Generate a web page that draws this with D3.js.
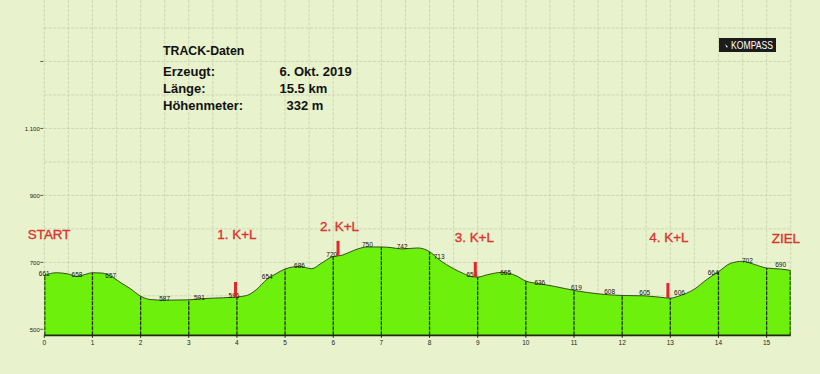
<!DOCTYPE html>
<html>
<head>
<meta charset="utf-8">
<script src="https://cdn.jsdelivr.net/npm/d3@7"></script>
<style>
  body { margin: 0; background: #e9f3cd; }
  svg { display: block; font-family: "Liberation Sans", Arial, sans-serif; }
</style>
</head>
<body>
<svg id="profile"></svg>
<script>
// Track profile (distance in km, elevation in m)
const distKm = [0, 0.25, 0.5, 0.68, 0.85, 1.0, 1.2, 1.38, 1.6, 1.8, 2.0, 2.2, 2.5, 3.0, 3.22, 3.5, 3.94,
  4.2, 4.4, 4.63, 4.8, 5.0, 5.3, 5.55, 5.75, 5.97, 6.2, 6.45, 6.71, 7.0, 7.2, 7.43, 7.75, 8.0, 8.2,
  8.5, 8.7, 8.88, 9.0, 9.2, 9.5, 9.8, 10.0, 10.29, 10.6, 11.05, 11.5, 11.74, 12.0, 12.47, 12.9,
  13.0, 13.19, 13.5, 13.75, 13.89, 14.0, 14.25, 14.5, 14.7, 15.0, 15.29, 15.5];
const elevM = [661, 669, 665, 658, 664, 669, 668, 659, 638, 620, 599, 589, 587, 588, 591, 593, 596,
  601, 618, 650, 665, 680, 688, 681, 697, 716, 722, 737, 746, 746, 744, 740, 743, 732, 708,
  681, 667, 657, 656, 663, 670, 660, 644, 636, 628, 615, 606, 603, 601, 600, 594,
  593, 600, 620, 648, 662, 672, 697, 703, 696, 683, 680, 676];

// Waypoint labels along the profile
const wpKm = [0, 0.68, 1.38, 2.5, 3.22, 3.94, 4.63, 5.3, 5.97, 6.71, 7.43, 8.2, 8.88, 9.58, 10.29,
  11.05, 11.74, 12.47, 13.19, 13.89, 14.6, 15.29];
const wpElev = [661, 658, 657, 587, 591, 596, 654, 686, 720, 750, 742, 713, 659, 665, 636,
  619, 608, 605, 606, 664, 702, 690];

// Stations (K+L) and start / finish labels
const stationKm = [3.97, 6.1, 8.95, 12.95];
const markLabels = ["START", "1. K+L", "2. K+L", "3. K+L", "4. K+L", "ZIEL"];
const markKm = [0.1, 4.0, 6.13, 8.93, 12.97, 15.4];
const markElev = [783, 783, 808, 776, 776, 771];

// Axis ticks
const yLabelTicks = [500, 700, 900, 1100];
const yGridTicks = d3.range(500, 1401, 100);
const xLabelTicks = d3.range(0, 16, 1);
const xGridTicks = d3.range(0, 15.51, 0.5);

// Header
const headerTitle = "TRACK-Daten";
const headerKeys = ["Erzeugt:", "Länge:", "Höhenmeter:"];
const headerValues = ["6. Okt. 2019", "15.5 km", "332 m"];

const W = 820, H = 374;
const BASE = 482;

const svg = d3.select("#profile").attr("width", W).attr("height", H);

const x = d3.scaleLinear().domain([0, 15.5]).range([44.3, 790.7]);
const y = d3.scaleLinear().domain([500, 1400]).range([329.3, 28]);

// Background
svg.append("rect").attr("width", W).attr("height", H).attr("fill", "#e8f2cc");

// Grid
const grid = svg.append("g")
    .attr("stroke", "#c2cbaa")
    .attr("stroke-width", 0.7)
    .attr("stroke-dasharray", "3,1.5");

grid.selectAll(".vg")
    .data(xGridTicks)
    .enter().append("line")
    .attr("x1", d => x(d)).attr("x2", d => x(d))
    .attr("y1", 0).attr("y2", y(BASE));

grid.selectAll(".hg")
    .data(yGridTicks)
    .enter().append("line")
    .attr("x1", x(0)).attr("x2", x(15.5))
    .attr("y1", d => y(d)).attr("y2", d => y(d));

// Profile area
const profile = d3.zip(distKm, elevM);
const area = d3.area()
    .x(d => x(d[0]))
    .y0(y(BASE))
    .y1(d => y(d[1]))
    .curve(d3.curveMonotoneX);
const line = d3.line()
    .x(d => x(d[0]))
    .y(d => y(d[1]))
    .curve(d3.curveMonotoneX);

svg.append("defs").append("clipPath")
    .attr("id", "areaClip")
    .append("path")
    .attr("d", area(profile));

svg.append("path")
    .attr("d", area(profile))
    .attr("fill", "#6cf00c");

// Km divider lines inside the area
svg.append("g")
    .attr("clip-path", "url(#areaClip)")
    .selectAll("line")
    .data(xLabelTicks.concat([15.5]))
    .enter().append("line")
    .attr("x1", d => x(d)).attr("x2", d => x(d))
    .attr("y1", y(BASE)).attr("y2", 0)
    .attr("stroke", "#24300f")
    .attr("stroke-width", d => (d === 0 || d === 15.5) ? 2.2 : 1.3)
    .attr("stroke-dasharray", "4,1");

// Outline on top
svg.append("path")
    .attr("d", line(profile))
    .attr("fill", "none")
    .attr("stroke", "#2d3a1a")
    .attr("stroke-width", 0.9);

// Base line
svg.append("line")
    .attr("x1", x(0)).attr("x2", x(15.5))
    .attr("y1", y(BASE)).attr("y2", y(BASE))
    .attr("stroke", "#1e2a10")
    .attr("stroke-width", 1.6);

// X axis ticks and labels
const xAxis = svg.append("g");
xAxis.selectAll("line")
    .data(xLabelTicks)
    .enter().append("line")
    .attr("x1", d => x(d)).attr("x2", d => x(d))
    .attr("y1", y(BASE)).attr("y2", y(BASE) + 2.5)
    .attr("stroke", "#1e2a10").attr("stroke-width", 1);
xAxis.selectAll("text")
    .data(xLabelTicks)
    .enter().append("text")
    .attr("x", d => x(d))
    .attr("y", 345)
    .attr("text-anchor", "middle")
    .style("font-size", "6.5px")
    .attr("fill", "#222")
    .text(d => d);

// Y axis ticks and labels
const yAxis = svg.append("g");
yAxis.selectAll("line")
    .data(yLabelTicks.concat([1300]))
    .enter().append("line")
    .attr("x1", x(0) - 4).attr("x2", x(0) - 1)
    .attr("y1", d => y(d)).attr("y2", d => y(d))
    .attr("stroke", "#333").attr("stroke-width", 0.8);
yAxis.selectAll("text")
    .data(yLabelTicks)
    .enter().append("text")
    .attr("x", x(0) - 4.5)
    .attr("y", d => y(d) + 2.2)
    .attr("text-anchor", "end")
    .style("font-size", "6px")
    .attr("fill", "#222")
    .text(d => d3.format(",")(d).replace(",", "."));

// Waypoint elevation labels
svg.append("g")
    .selectAll("text")
    .data(d3.zip(wpKm, wpElev))
    .enter().append("text")
    .attr("x", d => x(d[0]))
    .attr("y", d => y(d[1]) + 1)
    .attr("text-anchor", "middle")
    .style("font-size", "6.5px")
    .attr("fill", "#111")
    .text(d => d[1]);

// Red station bars sitting on the profile
const elevAt = k => {
    const i = d3.bisectLeft(distKm, k);
    if (i <= 0) return elevM[0];
    const t = (k - distKm[i - 1]) / (distKm[i] - distKm[i - 1]);
    return elevM[i - 1] + t * (elevM[i] - elevM[i - 1]);
};
svg.append("g")
    .selectAll("rect")
    .data(stationKm)
    .enter().append("rect")
    .attr("x", d => x(d) - 1.5)
    .attr("y", d => y(elevAt(d)) - 15)
    .attr("width", 3)
    .attr("height", 15)
    .attr("fill", "#e0272b");

// Red START / K+L / ZIEL labels
svg.append("g")
    .selectAll("text")
    .data(d3.zip(markLabels, markKm, markElev))
    .enter().append("text")
    .attr("x", d => x(d[1]))
    .attr("y", d => y(d[2]))
    .attr("dy", "0.36em")
    .attr("text-anchor", "middle")
    .style("font-size", "13.4px")
    .style("stroke", "#d9332f")
    .style("stroke-width", 0.35)
    .attr("fill", "#d9332f")
    .text(d => d[0]);

// Header block
svg.append("text")
    .attr("x", 163).attr("y", 54.5)
    .style("font-size", "12.3px")
    .style("font-weight", "bold")
    .attr("fill", "#111")
    .text(headerTitle);

const rowY = [75.8, 93, 109.5];
const valueX = [279.5, 279.5, 286.5];
svg.append("g")
    .selectAll("text")
    .data(headerKeys)
    .enter().append("text")
    .attr("x", 163)
    .attr("y", (d, i) => rowY[i])
    .style("font-size", "13px")
    .style("font-weight", "bold")
    .attr("fill", "#111")
    .text(d => d);
svg.append("g")
    .selectAll("text")
    .data(headerValues)
    .enter().append("text")
    .attr("x", (d, i) => valueX[i])
    .attr("y", (d, i) => rowY[i])
    .style("font-size", "13px")
    .style("font-weight", "bold")
    .attr("fill", "#111")
    .text(d => d);

// KOMPASS logo
const logo = svg.append("g").attr("transform", "translate(719,38)");
logo.append("rect")
    .attr("width", 57).attr("height", 14)
    .attr("fill", "#1c1c1c");
logo.append("path")
    .attr("d", "M6,6 L9,9 L7.5,9.5 Z")
    .attr("fill", "#fff");
logo.append("text")
    .attr("x", 12).attr("y", 11)
    .attr("textLength", 42)
    .attr("lengthAdjust", "spacingAndGlyphs")
    .style("font-size", "10.5px")
    .attr("fill", "#fff")
    .text("KOMPASS");
</script>
</body>
</html>
